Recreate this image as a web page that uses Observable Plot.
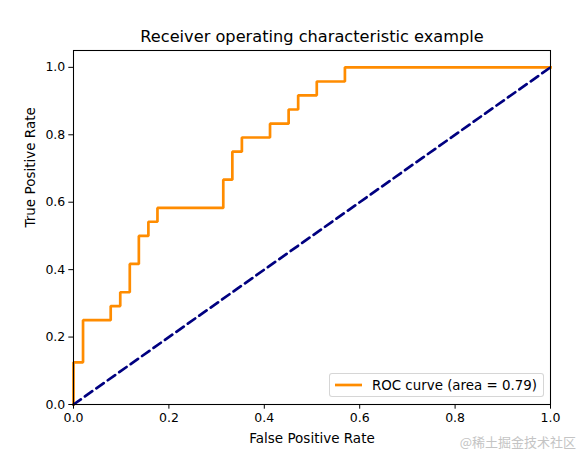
<!DOCTYPE html>
<html>
<head>
<meta charset="utf-8">
<script src="https://cdn.jsdelivr.net/npm/d3@7"></script>
<script src="https://cdn.jsdelivr.net/npm/@observablehq/plot@0.6"></script>
<style>
  html, body { margin: 0; padding: 0; background: #fff; }
  #wrap { position: relative; width: 580px; height: 455px; font-family: "DejaVu Sans", sans-serif; }
  #legend { position: absolute; right: 36px; bottom: 58px; height: 24px; padding: 0 6px 0 5px;
            border: 1px solid rgba(204,204,204,0.8); border-radius: 3px; background: rgba(255,255,255,0.8);
            display: flex; align-items: center; font-size: 13.4px; color: #000; box-sizing: border-box; }
  #legend svg { margin-right: 10px; }
  #wm { position: absolute; right: 4px; bottom: 4px; font-family: "Noto Sans CJK SC", sans-serif; font-size: 13px; color: #c4c4c4; }
</style>
</head>
<body>
<div id="wrap"></div>
<script>
// ROC curve corner points (false positive rate, true positive rate)
const fpr = [0, 0, 0.020, 0.020, 0.078, 0.078, 0.098, 0.098, 0.118, 0.118, 0.137, 0.137, 0.157, 0.157, 0.176, 0.176,
             0.314, 0.314, 0.333, 0.333, 0.353, 0.353, 0.412, 0.412, 0.451, 0.451, 0.471, 0.471, 0.510, 0.510, 0.569, 0.569, 1.0];
const tpr = [0, 0.125, 0.125, 0.250, 0.250, 0.292, 0.292, 0.333, 0.333, 0.417, 0.417, 0.500, 0.500, 0.542, 0.542, 0.583,
             0.583, 0.667, 0.667, 0.750, 0.750, 0.792, 0.792, 0.833, 0.833, 0.875, 0.875, 0.917, 0.917, 0.958, 0.958, 1.0, 1.0];
const chanceX = [0, 1];
const chanceY = [0, 1];
const ticks = [0, 0.2, 0.4, 0.6, 0.8, 1.0];
const title = "Receiver operating characteristic example";
const xLabel = "False Positive Rate";
const yLabel = "True Positive Rate";
const legendLabel = "ROC curve (area = 0.79)";
const rocColor = "darkorange";
const chanceColor = "navy";

const roc = fpr.map((x, i) => ({x, y: tpr[i]}));
const chance = chanceX.map((x, i) => ({x, y: chanceY[i]}));

const chart = Plot.plot({
  width: 580,
  height: 455,
  marginLeft: 73,
  marginRight: 30,
  marginTop: 50,
  marginBottom: 51,
  style: {fontFamily: "DejaVu Sans, sans-serif", fontSize: "12.5px", color: "#000", background: "#fff", overflow: "visible"},
  x: {domain: [0, 1], ticks: ticks, tickFormat: d3.format(".1f"), tickSize: 4.7, tickPadding: 3.5, label: null},
  y: {domain: [0, 1.05], ticks: ticks, tickFormat: d3.format(".1f"), tickSize: 4.7, tickPadding: 3.5, label: null},
  marks: [
    Plot.line(roc, {x: "x", y: "y", stroke: rocColor, strokeWidth: 2.7, curve: "linear", strokeLinejoin: "miter", strokeLinecap: "square"}),
    Plot.line(chance, {x: "x", y: "y", stroke: chanceColor, strokeWidth: 2.7, strokeDasharray: "9,5"}),
    Plot.frame({stroke: "#000", strokeWidth: 1.07}),
    Plot.axisX({ticks: ticks, tickFormat: d3.format(".1f"), tickSize: 4.7, tickPadding: 3.5, stroke: "#000", label: null, fontSize: 12.5}),
    Plot.axisY({ticks: ticks, tickFormat: d3.format(".1f"), tickSize: 4.7, tickPadding: 3.5, stroke: "#000", label: null, fontSize: 12.5}),
    Plot.text([title], {frameAnchor: "top", lineAnchor: "bottom", dy: -9, text: d => d, fontSize: 16.2, fill: "#000"}),
    Plot.text([xLabel], {frameAnchor: "bottom", lineAnchor: "bottom", dy: 38, text: d => d, fontSize: 13.5, fill: "#000"}),
    Plot.text([yLabel], {frameAnchor: "left", dx: -43, rotate: -90, text: d => d, fontSize: 13.5, fill: "#000"})
  ]
});
const wrap = document.getElementById("wrap");
wrap.appendChild(chart);

const legend = document.createElement("div");
legend.id = "legend";
legend.innerHTML = `<svg width="27" height="4"><line x1="0" x2="27" y1="2" y2="2" stroke="${rocColor}" stroke-width="2.7"/></svg><span>${legendLabel}</span>`;
wrap.appendChild(legend);

const wm = document.createElement("div");
wm.id = "wm";
wm.textContent = "@稀土掘金技术社区";
wrap.appendChild(wm);
</script>
</body>
</html>
